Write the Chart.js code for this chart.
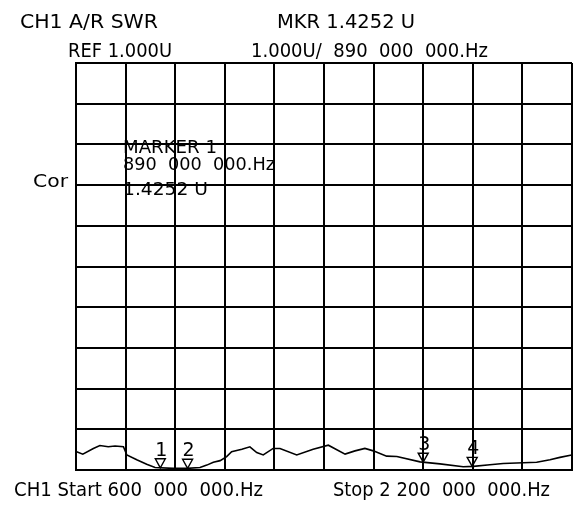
<!DOCTYPE html>
<html>
<head>
<meta charset="utf-8">
<script src="https://cdn.jsdelivr.net/npm/chart.js@4/dist/chart.umd.min.js"></script>
<style>
  html, body { margin: 0; padding: 0; background: #fff; }
  #box { width: 573px; height: 509px; }
</style>
</head>
<body>
<div id="box"><canvas id="swrChart"></canvas></div>
<script>
const freqMHz = [602, 622, 656, 677, 704, 726, 753, 764, 796, 828, 855, 914, 957, 1000, 1022, 1043, 1065,
    1086, 1102, 1135, 1161, 1183, 1204, 1236, 1258, 1312, 1365, 1414, 1468, 1500, 1532, 1559, 1602,
    1635, 1710, 1774, 1849, 1882, 1935, 1978, 2086, 2129, 2161, 2199];
const swr = [1.45, 1.39, 1.53, 1.60, 1.57, 1.59, 1.57, 1.37, 1.25, 1.14, 1.06, 1.04, 1.04, 1.06, 1.12, 1.19, 1.23,
    1.33, 1.45, 1.51, 1.57, 1.43, 1.37, 1.53, 1.53, 1.37, 1.51, 1.61, 1.39, 1.47, 1.53, 1.47, 1.34,
    1.33, 1.20, 1.15, 1.08, 1.09, 1.13, 1.16, 1.19, 1.25, 1.31, 1.37];

// marcadores
const markerLabels = ['1', '2', '3', '4'];
const markerFreq = [872, 960, 1720, 1878];

// escala
const startMHz = 600;
const stopMHz = 2200;
const refValue = 1.0;
const perDiv = 1.0;
const divisions = 10;

function interpSwr(f) {
    for (let i = 0; i < freqMHz.length - 1; i++) {
        if (f >= freqMHz[i] && f <= freqMHz[i + 1]) {
            const t = (f - freqMHz[i]) / (freqMHz[i + 1] - freqMHz[i]);
            return swr[i] + t * (swr[i + 1] - swr[i]);
        }
    }
    return swr[swr.length - 1];
}

const FONT = '"DejaVu Sans", sans-serif';

function drawText(ctx, str, x, y, size, width) {
    ctx.save();
    ctx.font = size + 'px ' + FONT;
    ctx.fillStyle = '#000';
    ctx.textBaseline = 'alphabetic';
    ctx.textAlign = 'left';
    const w = ctx.measureText(str).width;
    ctx.translate(x, y);
    if (width) ctx.scale(width / w, 1);
    ctx.fillText(str, 0, 0);
    ctx.restore();
}

const textos = {
    id: 'textos',
    afterDraw(chart) {
        const ctx = chart.ctx;
        const xs = chart.scales.x, ys = chart.scales.y;

        // marcadores (triângulo com ponta no traço)
        markerFreq.forEach((f, i) => {
            const px = xs.getPixelForValue(f);
            const py = ys.getPixelForValue(interpSwr(f));
            ctx.save();
            ctx.strokeStyle = '#000';
            ctx.lineWidth = 1.4;
            ctx.beginPath();
            ctx.moveTo(px, py);
            ctx.lineTo(px - 5, py - 9);
            ctx.lineTo(px + 5, py - 9);
            ctx.closePath();
            ctx.stroke();
            ctx.restore();
            drawText(ctx, markerLabels[i], px - 5, py - 12, 19);
        });

        drawText(ctx, 'CH1 A/R SWR', 20, 28, 20, 138);
        drawText(ctx, 'MKR 1.4252 U', 277, 28, 20, 138);
        drawText(ctx, 'REF 1.000U', 68, 57, 20, 104);
        drawText(ctx, '1.000U/  890  000  000.Hz', 251, 57, 20, 237);
        drawText(ctx, 'Cor', 33, 187, 18, 35);
        drawText(ctx, 'MARKER 1', 123, 153, 18, 94);
        drawText(ctx, '890  000  000.Hz', 123, 170, 18, 152);
        drawText(ctx, '1.4252 U', 123, 195, 18, 85);
        drawText(ctx, 'CH1 Start 600  000  000.Hz', 14, 496, 19, 249);
        drawText(ctx, 'Stop 2 200  000  000.Hz', 333, 496, 19, 217);
    }
};

function plotar() {
    const ctx = document.getElementById('swrChart').getContext('2d');
    new Chart(ctx, {
        type: 'line',
        data: {
            datasets: [{
                label: 'SWR',
                data: freqMHz.map((f, i) => ({ x: f, y: swr[i] })),
                borderColor: '#000',
                borderWidth: 1.6,
                pointRadius: 0,
                fill: false,
                tension: 0
            }]
        },
        options: {
            responsive: true,
            maintainAspectRatio: false,
            animation: false,
            layout: { padding: { left: 76, top: 63, right: 1, bottom: 39 } },
            scales: {
                x: {
                    type: 'linear',
                    min: startMHz,
                    max: stopMHz,
                    ticks: { display: false, stepSize: (stopMHz - startMHz) / divisions },
                    grid: { color: '#000', lineWidth: 2, drawTicks: false },
                    border: { display: true, color: '#000', width: 2 }
                },
                y: {
                    min: refValue,
                    max: refValue + perDiv * divisions,
                    ticks: { display: false, stepSize: perDiv },
                    grid: { color: '#000', lineWidth: 2, drawTicks: false },
                    border: { display: true, color: '#000', width: 2 }
                }
            },
            plugins: {
                legend: { display: false },
                tooltip: { enabled: false }
            }
        },
        plugins: [textos]
    });
}

document.fonts.load('19px "DejaVu Sans"').then(plotar, plotar);
</script>
</body>
</html>
